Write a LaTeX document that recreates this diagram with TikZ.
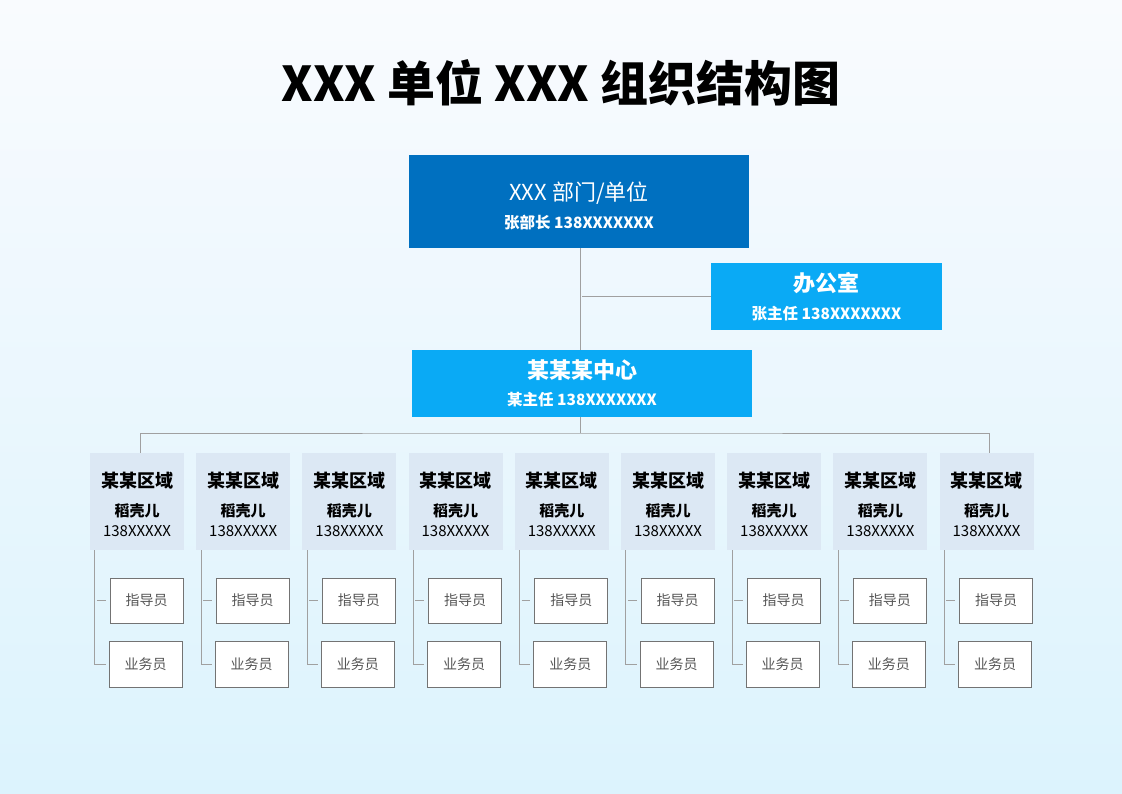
\documentclass[tikz,border=0pt]{standalone}
\usepackage{fontspec}
\setmainfont{Noto Sans CJK SC}
\usetikzlibrary{positioning}

\definecolor{deptblue}{HTML}{0070C0}
\definecolor{unitblue}{HTML}{0AAAF5}
\definecolor{areagray}{HTML}{DCE8F4}
\definecolor{linegray}{HTML}{A0A0A0}
\definecolor{bgtop}{HTML}{F9FBFE}
\definecolor{bgbottom}{HTML}{DCF3FD}
\definecolor{staffgray}{HTML}{555555}

\newcommand{\fs}[1]{\fontsize{#1}{#1}\selectfont}

\begin{document}
\begin{tikzpicture}[x=1pt,y=-1pt,
  deptbox/.style={fill=deptblue,minimum width=340pt,minimum height=93pt,inner sep=0pt},
  unitbox/.style={fill=unitblue,text=white,minimum width=#1,minimum height=67pt,inner sep=0pt,align=center},
  areabox/.style={fill=areagray,minimum width=94pt,minimum height=97pt,inner sep=0pt},
  boxtext/.style={inner sep=0pt,align=center},
  staffbox/.style={draw=gray!90!black,fill=white,text=staffgray,minimum width=73pt,minimum height=45pt,inner sep=0pt,line width=0.8pt},
  link/.style={draw=linegray,line width=0.9pt}]
\shade[top color=bgtop,bottom color=bgbottom] (0,0) rectangle (1122,793);
\useasboundingbox (0,0) rectangle (1122,793);

% title
\node (title) at (561,83) {\fs{48}\bfseries XXX 单位 XXX 组织结构图};

% head and units
\node[deptbox] (dept) at (579,201.5) {};
\node[boxtext,text=white,yshift=-4.5pt] (depttext) at (dept.center)
  {{\fs{22}XXX 部门/单位}\\[9pt]{\fs{15.5}\bfseries 张部长 138XXXXXXX}};
\node[unitbox=231pt] (office) at (826.5,296.5) {{\fs{22}\bfseries 办公室}\\[12pt]{\fs{15.5}\bfseries 张主任 138XXXXXXX}};
\node[unitbox=340pt] (center) at (582,383.5) {{\fs{22}\bfseries 某某某中心}\\[11pt]{\fs{15.5}\bfseries 某主任 138XXXXXXX}};

\draw[link] ([xshift=1pt]dept.south) -- ([xshift=1pt]dept.south |- center.north);
\draw[link] ([xshift=3pt]dept.south |- office.west) -- (office.west);
\coordinate (bus) at ([xshift=-2pt]center.south |- 0,433);
\draw[link] ([xshift=-2pt]center.south) -- (bus);

% areas
\foreach \i in {1,...,9}{
  \node[areabox] (area\i) at ({137+106.2*(\i-1)},501.5) {};
  \node[boxtext,yshift=-3pt] (areatext\i) at (area\i.center)
    {{\fs{18}\bfseries 某某区域}\\[13pt]{\fs{15}\bfseries 稻壳儿}\\[7pt]{\fs{15}138XXXXX}};
  \node[staffbox] (guide\i) at ([xshift=9.5pt]area\i.south |- 0,600.5) {\fs{14}指导员};
  \node[staffbox,minimum height=46pt] (sales\i) at ([xshift=8.5pt]area\i.south |- 0,664) {\fs{14}业务员};
  \draw[link] ([xshift=5pt]area\i.south west) |- ([xshift=-3pt]sales\i.west);
  \draw[link] ([xshift=7pt]area\i.south west |- guide\i.west) -- ([xshift=-4pt]guide\i.west);
}
\draw[link] ([xshift=3pt]area1.north) |- (bus) -| ([xshift=3pt]area9.north);
\end{tikzpicture}
\end{document}
